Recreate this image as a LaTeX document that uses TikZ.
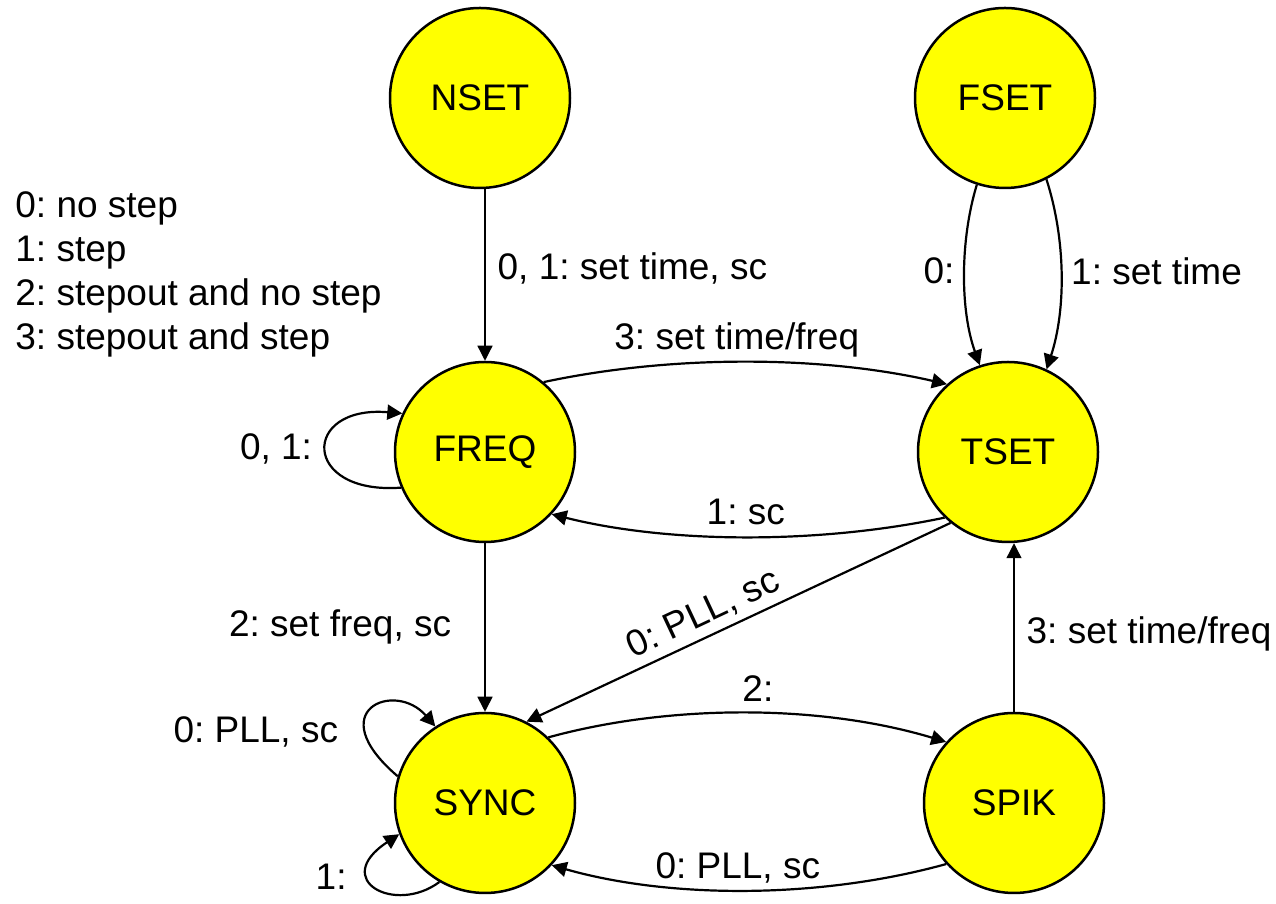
\documentclass[tikz,border=0pt]{standalone}
\usepackage{fontspec}
\setmainfont{Liberation Sans}
\usetikzlibrary{arrows.meta}
\definecolor{stateyellow}{RGB}{255,255,0}
\frenchspacing
\begin{document}
\begin{tikzpicture}[x=0.5pt,y=0.5pt,
  state/.style={circle, draw=black, line width=1.25pt, fill=stateyellow,
    minimum size=90pt, inner sep=0pt, font=\fontsize{18.5}{22}\selectfont},
  edge/.style={-{Triangle[length=7.5pt,width=7.5pt]}, line width=1.1pt},
  midedge/.style={-{Triangle[length=7.5pt,width=7.5pt]}, line width=0.85pt},
  thinedge/.style={-{Triangle[length=7.5pt,width=7.5pt]}, line width=0.65pt},
  lbl/.style={font=\fontsize{18.5}{22}\selectfont, inner sep=1.5pt, text depth=4pt},
  keytext/.style={font=\fontsize{18.5}{22}\selectfont, inner sep=0pt, anchor=base west},
]
\useasboundingbox (0,0) rectangle (1276,904);

% states
\node[state] (NSET) at (480,806) {NSET};
\node[state] (FSET) at (1005,806) {FSET};
\node[state] (FREQ) at (485,452) {FREQ};
\node[state] (TSET) at (1008,452) {TSET};
\node[state] (SYNC) at (485,101) {SYNC};
\node[state] (SPIK) at (1014,101) {SPIK};

% input codes
\node[keytext] (k0) at (15,686) {0: no step};
\node[keytext] (k1) at (15,642) {1: step};
\node[keytext] (k2) at (15,598) {2: stepout and no step};
\node[keytext] (k3) at (15,554) {3: stepout and step};

% transitions
\draw[thinedge] (NSET.south -| FREQ.north) --
  node[lbl, pos=0.47, anchor=west, xshift=4.5pt] {0, 1: set time, sc} (FREQ.north);

\draw[edge] (FSET.252) .. controls (960,664) and (960,594) ..
  node[lbl, left, xshift=-3pt] {0:} (TSET.108);
\draw[edge] (FSET.297) .. controls (1066,664) and (1066,594) ..
  node[lbl, right, xshift=3pt] {1: set time} (TSET.65);

\draw[edge] (FREQ.50) .. controls (670,549) and (820,549) ..
  node[lbl, above, pos=0.48] {3: set time/freq} (TSET.132);
\draw[edge] (TSET.226) .. controls (820,360) and (670,360) ..
  node[lbl, above] {1: sc} (FREQ.317);

\draw[midedge] (FREQ) --
  node[lbl, pos=0.5, anchor=east, xshift=-15pt] {2: set freq, sc} (SYNC);

\draw[edge] (TSET.231) --
  node[lbl, pos=0.56, sloped, above] {0: PLL, sc} (SYNC.63);

\draw[edge] (SYNC.46) .. controls (670,200) and (820,200) ..
  node[lbl, above, pos=0.53] {2:} (SPIK.138);
\draw[edge] (SPIK.222) .. controls (820,5) and (670,5) ..
  node[lbl, above, pos=0.52] {0: PLL, sc} (SYNC.317);

\draw[thinedge] (SPIK.north) --
  node[lbl, pos=0.46, anchor=west, xshift=4.5pt] {3: set time/freq} (SPIK.north |- TSET.south);

% self loops
\draw[edge] (FREQ.203) .. controls (301,409) and (301,499) ..
  node[lbl, pos=0.5, left, xshift=-5pt] {0, 1:} (FREQ.155);
\draw[edge] (SYNC.163) .. controls (320,194) and (395,224) ..
  node[lbl, pos=0.25, left, xshift=-11.5pt] {0: PLL, sc} (SYNC.123);
\draw[edge] (SYNC.240) .. controls (395,-11) and (330,24) ..
  node[lbl, pos=0.6, left, xshift=-10pt] {1:} (SYNC.200);
\end{tikzpicture}
\end{document}
